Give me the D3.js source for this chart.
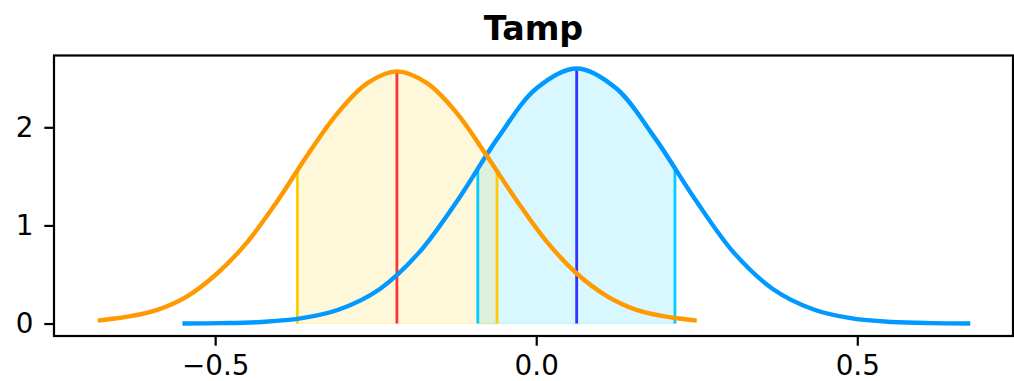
<!DOCTYPE html>
<html>
<head>
<meta charset="utf-8">
<script src="https://cdn.jsdelivr.net/npm/d3@7"></script>
<style>
  body { margin: 0; background: #fff; }
  svg { display: block; font-family: "DejaVu Sans", sans-serif; }
  .axis text { font-family: "DejaVu Sans", sans-serif; font-size: 27.8px; fill: #000; }
  .axis path, .axis line { stroke: #000; stroke-width: 2.2px; }
</style>
</head>
<body>
<div id="chart"></div>
<script>
// values
const chartTitle = "Tamp";

// orange curve (first sample)
const orangeX = [-0.683, -0.637, -0.590, -0.543, -0.497, -0.450, -0.403, -0.357, -0.310, -0.263, -0.217,
                 -0.170, -0.123, -0.077, -0.030, 0.017, 0.063, 0.110, 0.156, 0.203, 0.250];
const orangeY = [0.03, 0.07, 0.14, 0.28, 0.51, 0.83, 1.25, 1.71, 2.14, 2.45, 2.57,
                 2.45, 2.14, 1.71, 1.25, 0.83, 0.51, 0.28, 0.14, 0.07, 0.03];
const orangeMean = -0.217, orangeLo = -0.372, orangeHi = -0.061;
const orangePeak = 2.566, orangeSideH = 1.556;

// blue curve (second sample)
const blueX = [-0.551, -0.490, -0.428, -0.367, -0.306, -0.244, -0.183, -0.121, -0.060, 0.001, 0.063,
               0.124, 0.185, 0.247, 0.308, 0.369, 0.431, 0.492, 0.554, 0.615, 0.676];
const blueY = [0.001, 0.004, 0.016, 0.052, 0.146, 0.35, 0.72, 1.27, 1.89, 2.40, 2.60,
               2.40, 1.89, 1.27, 0.72, 0.35, 0.146, 0.052, 0.016, 0.004, 0.001];
const blueMean = 0.063, blueLo = -0.091, blueHi = 0.216;
const bluePeak = 2.60, blueSideH = 1.577;

const xTicks = [-0.5, 0, 0.5];
const xTickLabels = ["\u22120.5", "0.0", "0.5"];
const yTicks = [0, 1, 2];
const yTickLabels = ["0", "1", "2"];

const W = 1014, H = 381;
const mLeft = 54, mRight = 1013, mTop = 55.5, mBottom = 336;

const x = d3.scaleLinear().domain([-0.751, 0.7425]).range([mLeft, mRight]);
const y = d3.scaleLinear().domain([-0.127, 2.732]).range([mBottom, mTop]);

const svg = d3.select("#chart").append("svg")
    .attr("width", W)
    .attr("height", H);

const defs = svg.append("defs");

function series(xs, ys) { return xs.map((v, i) => [v, ys[i]]); }
const orange = series(orangeX, orangeY);
const blue = series(blueX, blueY);

const line = d3.line()
    .x(d => x(d[0])).y(d => y(d[1]))
    .curve(d3.curveCatmullRom.alpha(0.5));
const area = d3.area()
    .x(d => x(d[0])).y0(y(0)).y1(d => y(d[1]))
    .curve(d3.curveCatmullRom.alpha(0.5));

function band(id, pts, lo, hi, color) {
  defs.append("clipPath").attr("id", id)
    .append("rect")
      .attr("x", x(lo)).attr("width", x(hi) - x(lo))
      .attr("y", 0).attr("height", H);
  svg.append("path")
    .datum(pts)
    .attr("d", area)
    .attr("clip-path", "url(#" + id + ")")
    .attr("fill", color)
    .attr("fill-opacity", 0.15)
    .attr("stroke", color)
    .attr("stroke-opacity", 0.15)
    .attr("stroke-width", 1.5);
}

band("clipBlue", blue, blueLo, blueHi, "#00ccff");
band("clipOrange", orange, orangeLo, orangeHi, "#ffcc00");

function vline(v, h, color) {
  svg.append("line")
    .attr("x1", x(v)).attr("x2", x(v))
    .attr("y1", y(0)).attr("y2", y(h))
    .attr("stroke", color)
    .attr("stroke-width", 2.8);
}

vline(blueLo, blueSideH, "#00ccff");
vline(blueHi, blueSideH, "#00ccff");
vline(blueMean, bluePeak, "#3333ff");
vline(orangeLo, orangeSideH, "#ffcc00");
vline(orangeHi, orangeSideH, "#ffcc00");
vline(orangeMean, orangePeak, "#ff3333");

svg.append("path").datum(blue)
    .attr("d", line).attr("fill", "none")
    .attr("stroke", "#0099ff").attr("stroke-width", 4.4);
svg.append("path").datum(orange)
    .attr("d", line).attr("fill", "none")
    .attr("stroke", "#ff9900").attr("stroke-width", 4.4);

// axes
svg.append("g")
    .attr("class", "axis")
    .attr("transform", "translate(0," + mBottom + ")")
    .call(d3.axisBottom(x).tickValues(xTicks)
      .tickFormat((d, i) => xTickLabels[i])
      .tickSizeInner(9.7).tickSizeOuter(0).tickPadding(9.7))
    .call(g => g.select(".domain").remove())
    .selectAll("text").attr("dy", "0.71em");

svg.append("g")
    .attr("class", "axis")
    .attr("transform", "translate(" + mLeft + ",0)")
    .call(d3.axisLeft(y).tickValues(yTicks)
      .tickFormat((d, i) => yTickLabels[i])
      .tickSizeInner(9.7).tickSizeOuter(0).tickPadding(11))
    .call(g => g.select(".domain").remove());

// frame
svg.append("rect")
    .attr("x", mLeft).attr("y", mTop)
    .attr("width", mRight - mLeft).attr("height", mBottom - mTop)
    .attr("fill", "none")
    .attr("stroke", "#000")
    .attr("stroke-width", 2.2);

svg.append("text")
    .attr("x", (mLeft + mRight) / 2)
    .attr("y", 40)
    .attr("text-anchor", "middle")
    .attr("font-size", 33.3)
    .attr("font-weight", "bold")
    .text(chartTitle);
</script>
</body>
</html>
